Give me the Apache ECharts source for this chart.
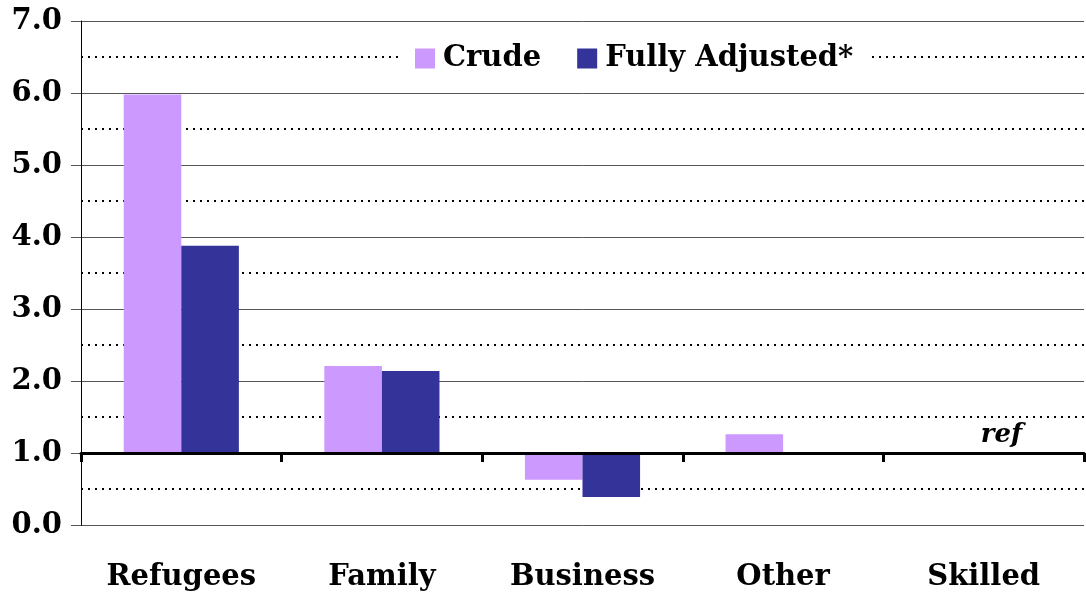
<!DOCTYPE html>
<html>
<head>
<meta charset="utf-8">
<script src="https://cdn.jsdelivr.net/npm/echarts@6/dist/echarts.min.js"></script>
<style>
  html, body { margin: 0; padding: 0; background: #fff; }
  #main { width: 1086px; height: 593px; }
</style>
</head>
<body>
<div id="main"></div>
<script>
// categories and odds ratios (reference = 1.0)
var categories = ['Refugees', 'Family', 'Business', 'Other', 'Skilled']
var crude = [5.98, 2.21, 0.63, 1.26, null]
var adjusted = [3.88, 2.14, 0.39, null, 1.0]
var base = 1.0   // bars grow from the reference line
var yTicks = [0, 1, 2, 3, 4, 5, 6, 7]

var font = '"DejaVu Serif", serif'

// shift values so bars start at the reference line
function shift(arr) {
    return arr.map(function (v) { return v == null ? '-' : +(v - base).toFixed(3) })
}

var myChart = echarts.init(document.getElementById('main'))

var option = {
    backgroundColor: '#fff',
    animation: false,
    grid: { left: 81, right: 2, top: 21, bottom: 68, outerBoundsMode: 'none', containLabel: false },
    legend: {
        data: ['Crude', 'Fully Adjusted*'],
        left: 403, top: 38,
        backgroundColor: '#fff',
        padding: [6, 14, 6, 12],
        itemWidth: 20, itemHeight: 20, itemGap: 36,
        icon: 'rect',
        textStyle: { fontFamily: font, fontWeight: 'bold', fontSize: 29, color: '#000', padding: [0, 0, 0, 3] }
    },
    xAxis: {
        type: 'category',
        data: categories,
        axisLine: { onZero: true, lineStyle: { color: '#000', width: 3 } },
        axisTick: { show: true, length: 9, lineStyle: { width: 3, color: '#000' } },
        axisLabel: {
            margin: 38, color: '#000',
            fontFamily: font, fontWeight: 'bold', fontSize: 29
        },
        z: 10
    },
    yAxis: {
        type: 'value',
        min: yTicks[0] - base, max: yTicks[yTicks.length - 1] - base, interval: 1,
        axisLine: { show: true, lineStyle: { color: '#000', width: 1 } },
        axisTick: { show: true, length: 10, lineStyle: { color: '#555' } },
        axisLabel: {
            margin: 19, color: '#000',
            fontFamily: font, fontWeight: 'bold', fontSize: 29,
            formatter: function (v) { return (v + base).toFixed(1) }
        },
        splitLine: { show: true, lineStyle: { color: '#555', width: 1 } },
        minorTick: { show: false, splitNumber: 2 },
        minorSplitLine: { show: true, lineStyle: { color: '#000', width: 2, type: [2, 5] } }
    },
    series: [
        {
            name: 'Crude',
            type: 'bar',
            data: shift(crude),
            itemStyle: { color: '#CC99FF' },
            barWidth: '28.7%',
            barGap: '0%'
        },
        {
            name: 'Fully Adjusted*',
            type: 'bar',
            data: shift(adjusted),
            itemStyle: { color: '#333399' },
            barWidth: '28.7%',
            barGap: '0%',
            label: {
                show: true, position: 'top', offset: [-11, 0],
                fontFamily: font, fontWeight: 'bold', fontStyle: 'italic', fontSize: 26, color: '#000',
                formatter: function (p) { return adjusted[p.dataIndex] === base ? 'ref' : '' }
            }
        }
    ]
}

myChart.setOption(option)
</script>
</body>
</html>
